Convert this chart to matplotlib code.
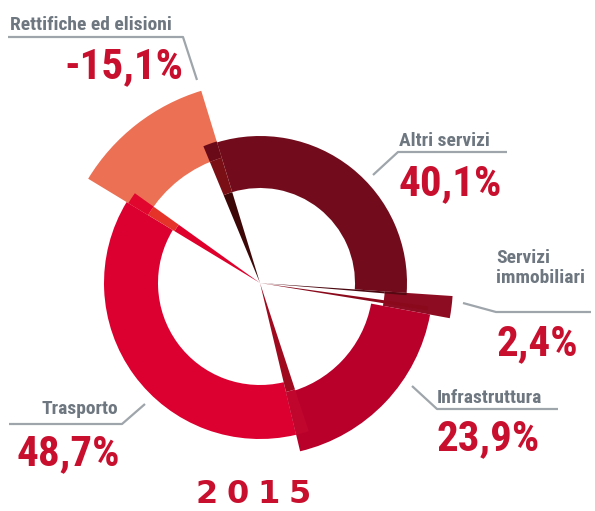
import numpy as np
import matplotlib
matplotlib.use("Agg")
import matplotlib.pyplot as plt
from matplotlib.patches import Wedge
from matplotlib import font_manager

# %% data (clockwise from the top)
labels = ["Altri servizi", "Servizi\nimmobiliari", "Infrastruttura", "Trasporto", "Rettifiche ed elisioni"]
values = [40.1, 2.4, 23.9, 48.7, -15.1]
year = "2015"

# %% style
colors = ["#720c1c", "#8e0c22", "#b8002b", "#dc0030", "#ec7053"]
r_in = [95, 125, 113, 102, 131]
r_out = [147, 193, 173, 156, 201]
grey = "#6e7780"
line_grey = "#9ea5ab"
red_txt = "#c8102e"

# pick the narrowest bold sans that is installed
avail = {f.name for f in font_manager.fontManager.ttflist}
fam = "DejaVu Sans"
for cand in ["Roboto Condensed", "Liberation Sans Narrow", "Open Sans Condensed", "Roboto", "Liberation Sans"]:
    if cand in avail:
        fam = cand
        break
plt.rcParams['font.family'] = [fam, 'DejaVu Sans']

fig = plt.figure(figsize=(5.95, 5.11), dpi=100)
ax = fig.add_axes([0, 0, 1, 1])
ax.set_xlim(0, 595)
ax.set_ylim(0, 511)
ax.axis("off")

cx, cy = 260, 228
mag = np.abs(values)
spans = mag / mag.sum() * 360
edges = 107 - np.concatenate([[0], np.cumsum(spans)])


def ring(t1, t2, r0, r1, c):
    w = None if r0 == 0 else r1 - r0
    ax.add_patch(Wedge((cx, cy), r1, t1, t2, width=w, fc=c, ec="none", lw=0))


# rings, back to front
for i in [4, 0, 3, 1, 2]:
    ring(edges[i + 1], edges[i], r_in[i], r_out[i], colors[i])

# thin cut slivers at the slice edges
slivers = [
    (edges[0], edges[0] + 5.5, [(0, 95, "#3d0708"), (95, 131, "#7a1016"), (131, 148, "#6a0a18")]),
    (edges[4] + 360 - 4.4, edges[4] + 360, [(0, 100, "#e0002c"), (100, 131, "#e5332a"), (131, 154, "#e0062e")]),
    (edges[3], edges[3] + 4.8, [(0, 112, "#a00a1f"), (112, 156, "#c0062c")]),
    (edges[1] - 0.9, edges[1], [(0, 125, "#4a0810"), (125, 147, "#560812")]),
    (edges[2] + 1.2, edges[2] + 2.6, [(0, 170, "#8a0a1c")]),
]
for t1, t2, parts in slivers:
    for r0, r1, c in parts:
        ring(t1, t2, r0, r1, c)

# %% labels
lab_kw = dict(color=grey, fontsize=14, fontweight="bold", va="baseline")
val_kw = dict(color=red_txt, fontsize=31, fontweight="bold", va="baseline")


def pct(v):
    return ("%.1f%%" % v).replace(".", ",")


# (label x, label y, ha, value x, value y, leader points)
spots = [
    (399, 365, "left", 399, 316, [(507, 359), (398, 359), (373, 336)]),
    (496, 228, "left", 496, 156, [(591, 199), (496, 199), (463, 208)]),
    (437, 108, "left", 437, 61, [(558, 102), (437, 102), (412, 125)]),
    (118, 97, "right", 16, 46, [(9, 87), (122, 87), (145, 107)]),
    (10, 481, "left", 183, 433, [(8, 474), (183, 474), (197, 431)]),
]
for i, (lx, ly, ha, vx, vy, pts) in enumerate(spots):
    ax.text(lx, ly, labels[i], ha=ha, linespacing=1.15, **lab_kw)
    vha = "right" if i == 4 else "left"
    ax.text(vx, vy, pct(values[i]), ha=vha, **val_kw)
    xs, ys = zip(*pts)
    ax.plot(xs, ys, color=line_grey, lw=1.6, solid_capstyle="butt")

# %% year, wide heavy lettering spread over the reference width
for k, ch in enumerate(year):
    ax.text(207 + k * 31, 8, ch, ha="center", va="baseline", color=red_txt,
            fontsize=23, fontweight="heavy", family="DejaVu Sans")

fig.savefig("out.png", dpi=100)
